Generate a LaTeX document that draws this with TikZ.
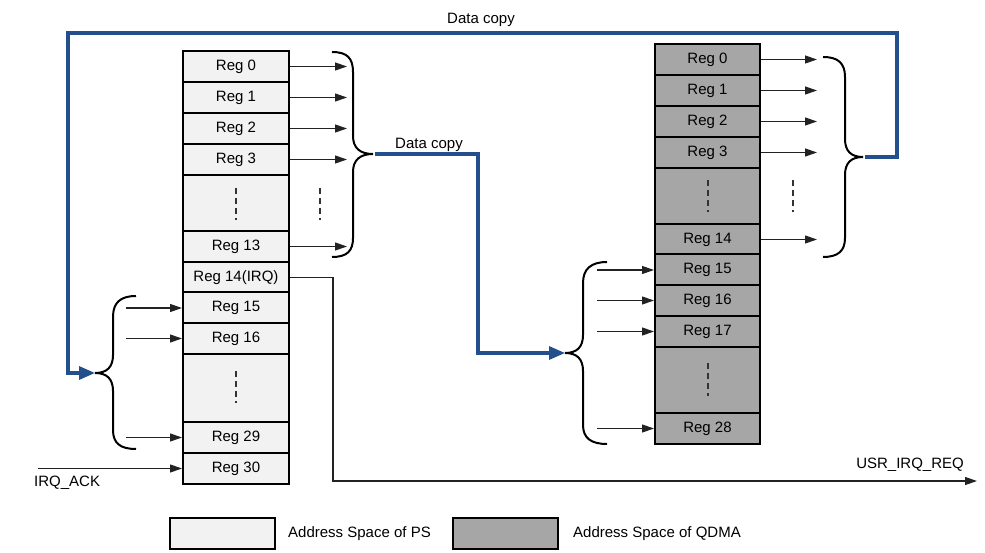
\documentclass[tikz,border=0pt]{standalone}
\usepackage{fontspec}
\setmainfont{Liberation Sans}
\usetikzlibrary{arrows.meta}
\definecolor{psfill}{HTML}{F2F2F2}
\definecolor{qfill}{HTML}{A6A6A6}
\definecolor{dblue}{HTML}{234F8C}
\definecolor{thin}{HTML}{222222}
\begin{document}
\begin{tikzpicture}[x=1pt,y=-1pt,
  every node/.style={font=\fontsize{15}{18}\selectfont},
  psreg/.style={draw=black,line width=2pt,fill=psfill,minimum width=106pt,inner sep=0pt,minimum height=31pt},
  qreg/.style={draw=black,line width=2pt,fill=qfill,minimum width=105pt,inner sep=0pt,minimum height=31pt},
  arr/.style={draw=thin,line width=1.2pt,-{Triangle[length=12pt,width=8pt]}},
  dotline/.style={draw=black!80,line width=1.5pt,dash pattern=on 6pt off 4pt},
  bracecurve/.style={draw=black,line width=2pt},
  bluearr/.style={draw=dblue,line width=3.2pt,-{Triangle[length=16pt,width=13pt]}},
  label/.style={inner sep=0pt}]
\useasboundingbox (0,0) rectangle (985,553);
% PS column
\node[psreg] (p0) at (236,66.5) {Reg 0};
\node[psreg] (p1) at (236,97.5) {Reg 1};
\node[psreg] (p2) at (236,128.5) {Reg 2};
\node[psreg] (p3) at (236,159.5) {Reg 3};
\node[psreg,minimum height=56pt] (pd1) at (236,203) {};
\node[psreg] (p13) at (236,246.5) {Reg 13};
\node[psreg] (p14) at (236,277.5) {Reg 14(IRQ)};
\node[psreg] (p15) at (236,308) {Reg 15};
\node[psreg] (p16) at (236,338.5) {Reg 16};
\node[psreg,minimum height=68pt] (pd2) at (236,388) {};
\node[psreg] (p29) at (236,437.5) {Reg 29};
\node[psreg] (p30) at (236,468.5) {Reg 30};
% QDMA column
\node[qreg] (q0) at (707.5,59.5) {Reg 0};
\node[qreg] (q1) at (707.5,90.5) {Reg 1};
\node[qreg] (q2) at (707.5,121.5) {Reg 2};
\node[qreg] (q3) at (707.5,152.5) {Reg 3};
\node[qreg,minimum height=56pt] (qd1) at (707.5,196) {};
\node[qreg] (q14) at (707.5,239.5) {Reg 14};
\node[qreg] (q15) at (707.5,270) {Reg 15};
\node[qreg] (q16) at (707.5,300.5) {Reg 16};
\node[qreg] (q17) at (707.5,331.5) {Reg 17};
\node[qreg,minimum height=66pt] (qd2) at (707.5,380) {};
\node[qreg] (q28) at (707.5,428.5) {Reg 28};
% dashes in columns
\draw[dotline] (236,188) -- (236,220);
\draw[dotline] (236,371) -- (236,403);
\draw[dotline] (708,180) -- (708,212);
\draw[dotline] (708,363) -- (708,396);
\draw[dotline] (320,188) -- (320,220);
\draw[dotline] (793,180) -- (793,212);
% arrows out of PS top
\foreach \n in {p0,p1,p2,p3,p13} \draw[arr] (\n.east) -- ++(57,0);
% arrows out of QDMA top
\foreach \n in {q0,q1,q2,q3,q14} \draw[arr] (\n.east) -- ++(56,0);
% arrows into QDMA lower
\foreach \n in {q15,q16,q17,q28} \draw[arr] ([xshift=-57pt]\n.west) -- (\n.west);
% arrows into PS lower
\foreach \n in {p15,p16,p29} \draw[arr] ([xshift=-56pt]\n.west) -- (\n.west);
% braces
\coordinate (b1) at (373,154);
\draw[bracecurve] (332,52) .. controls (347,52) and (353,58) .. (353,72) -- (353,136) .. controls (353,148) and (360,154) .. (b1) .. controls (360,154) and (353,160) .. (353,172) -- (353,238) .. controls (353,251) and (347,257) .. (332,257);
\coordinate (b2) at (863,157);
\draw[bracecurve] (823,57) .. controls (838,57) and (845,63) .. (845,77) -- (845,139) .. controls (845,151) and (851,157) .. (b2) .. controls (851,157) and (845,163) .. (845,175) -- (845,238) .. controls (845,251) and (838,257) .. (823,257);
\coordinate (b3) at (565,353);
\draw[bracecurve] (607,262) .. controls (591,262) and (583,269) .. (583,283) -- (583,335) .. controls (583,347) and (577,353) .. (b3) .. controls (577,353) and (583,359) .. (583,371) -- (583,425) .. controls (583,438) and (591,444) .. (607,444);
\coordinate (b4) at (95,373);
\draw[bracecurve] (136,296) .. controls (120,296) and (113,303) .. (113,317) -- (113,355) .. controls (113,367) and (107,373) .. (b4) .. controls (107,373) and (113,379) .. (113,391) -- (113,430) .. controls (113,443) and (120,449) .. (136,449);
% data copy paths
\coordinate (b1s) at (375,154);
\coordinate (b2s) at (865,157);
\draw[bluearr] (b1s) -- (478,154) -- (478,353) -- (b3);
\draw[bluearr] (b2s) -- (897,157) -- (897,33) -- (68,33) -- (68,373) -- (b4);
\node[label] (dc1) at (429,145) {Data copy};
\node[label] (dc2) at (481,20) {Data copy};
% IRQ request
\coordinate (irqend) at (977,481);
\draw[arr] (p14.east) -- (333,277.5) -- (333,481) -- (irqend);
\node[label,anchor=east] (usr) at (964,465) {USR\_IRQ\_REQ};
% IRQ ack
\coordinate (ackstart) at (38,468.5);
\draw[arr] (ackstart) -- (p30.west);
\node[label,anchor=west] (ack) at (34,483) {IRQ\_ACK};
% legend
\node[psreg,minimum width=105pt,minimum height=31pt] (lps) at (222.5,533.5) {};
\node[label,anchor=west] (lpst) at (288,533.5) {Address Space of PS};
\node[qreg,minimum width=105pt,minimum height=31pt] (lq) at (505,533.5) {};
\node[label,anchor=west] (lqt) at (573,533.5) {Address Space of QDMA};
\end{tikzpicture}
\end{document}
